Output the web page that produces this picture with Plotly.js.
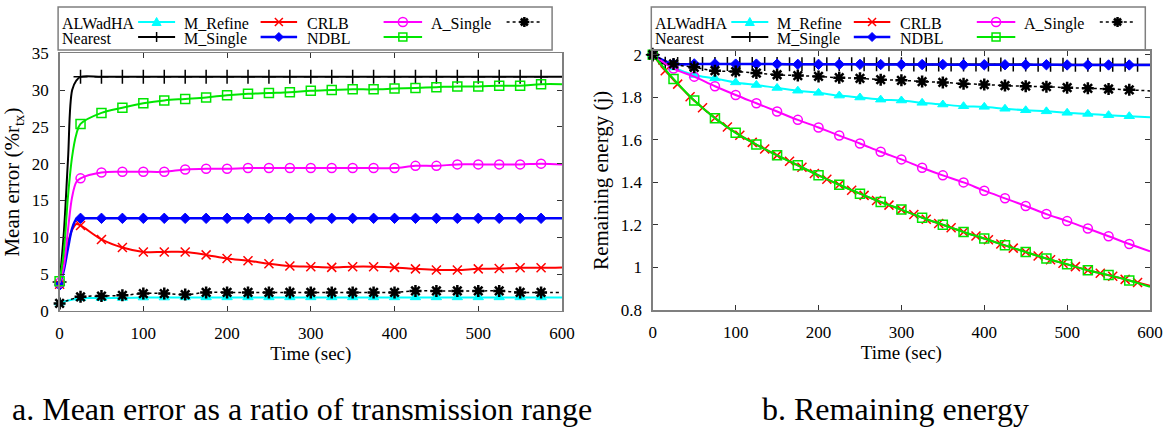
<!DOCTYPE html>
<html><head><meta charset="utf-8">
<script src="https://cdn.plot.ly/plotly-3.0.1.min.js"></script>
<style>html,body{margin:0;padding:0;background:#fff;} #chart{width:1176px;height:428px;}</style>
</head><body><div id="chart"></div>
<script>
// ---------- data: panel a (mean error, % of r_tx) ----------
const timeA = [0,25,50,75,100,125,150,175,200,225,250,275,300,325,350,375,400,425,450,475,500,525,550,575,600];
const timeADense = [0,5,10,15,20,25,50,75,100,125,150,175,200,225,250,275,300,325,350,375,400,425,450,475,500,525,550,575,600];
const errALWadHA = [1.1,1.7,1.72,1.75,1.8,1.8,1.82,1.82,1.82,1.82,1.82,1.82,1.82,1.82,1.82,1.82,1.82,1.82,1.82,1.82,1.82,1.82,1.82,1.82,1.82];
const errASingle = [1.0,1.9,2.0,2.1,2.35,2.35,2.2,2.5,2.5,2.5,2.5,2.5,2.5,2.5,2.5,2.5,2.5,2.7,2.7,2.7,2.7,2.7,2.5,2.5,2.5];
const errNearest = [3.9,10.5,20.5,30.0,31.3,31.8,31.8,31.8,31.8,31.8,31.8,31.8,31.8,31.8,31.8,31.8,31.8,31.8,31.8,31.8,31.8,31.8,31.8,31.8,31.8,31.8,31.8,31.8,31.8];
const errMRefine = [3.6,6.5,9.2,11.0,11.8,11.6,9.7,8.6,8.0,8.0,8.0,7.6,7.1,6.8,6.4,6.1,6.0,5.9,6.0,6.0,5.9,5.7,5.55,5.55,5.7,5.75,5.85,5.85,5.9];
const errMSingle = [3.5,5.5,8.5,11.2,12.45,12.57,12.57,12.57,12.57,12.57,12.57,12.57,12.57,12.57,12.57,12.57,12.57,12.57,12.57,12.57,12.57,12.57,12.57,12.57,12.57,12.57,12.57,12.57,12.57];
const errCRLB = [3.8,6.0,11.0,15.5,17.5,18.0,18.8,18.9,18.9,18.9,19.2,19.3,19.3,19.4,19.4,19.4,19.4,19.4,19.4,19.4,19.4,19.7,19.7,19.9,19.9,19.9,19.9,20.0,19.9];
const errNDBL = [4.0,8.0,15.5,21.0,24.0,25.4,26.9,27.6,28.2,28.6,28.8,29.0,29.3,29.5,29.6,29.7,29.9,30.0,30.1,30.1,30.2,30.3,30.4,30.5,30.5,30.6,30.6,30.8,30.8];

// ---------- data: panel b (remaining energy, j) ----------
const timeB = [0,25,50,75,100,125,150,175,200,225,250,275,300,325,350,375,400,425,450,475,500,525,550,575,600];
const timeB15 = [0,15,30,45,60,75,90,105,120,135,150,165,180,195,210,225,240,255,270,285,300,315,330,345,360,375,390,405,420,435,450,465,480,495,510,525,540,555,570,585,600];
const enALWadHA = [2.0,1.94,1.905,1.889,1.870,1.858,1.844,1.831,1.821,1.808,1.799,1.789,1.785,1.774,1.766,1.758,1.755,1.746,1.739,1.734,1.727,1.722,1.716,1.711,1.706];
const enCRLB = [2.0,1.935,1.897,1.852,1.811,1.772,1.733,1.694,1.658,1.620,1.583,1.544,1.508,1.469,1.433,1.400,1.361,1.325,1.289,1.251,1.218,1.183,1.147,1.110,1.076];
const enASingle = [2.0,1.957,1.941,1.925,1.921,1.914,1.906,1.902,1.898,1.892,1.889,1.883,1.880,1.874,1.870,1.864,1.860,1.855,1.852,1.850,1.845,1.842,1.839,1.835,1.830];
const enMSingle = [2.0,1.957,1.957,1.957,1.956,1.956,1.956,1.955,1.955,1.955,1.955,1.954,1.954,1.954,1.954,1.953,1.953,1.953,1.953,1.953,1.952,1.952,1.952,1.952,1.952];
const enNDBL = [2.0,1.886,1.785,1.702,1.633,1.578,1.527,1.480,1.433,1.389,1.347,1.308,1.272,1.234,1.201,1.167,1.136,1.104,1.073,1.042,1.015,0.987,0.964,0.939,0.909];
const enMRefine = [2.0,1.925,1.862,1.803,1.751,1.703,1.660,1.622,1.588,1.557,1.527,1.499,1.471,1.442,1.415,1.389,1.363,1.339,1.315,1.293,1.272,1.249,1.227,1.207,1.187,1.167,1.148,1.130,1.110,1.091,1.073,1.054,1.036,1.020,1.004,0.987,0.973,0.959,0.944,0.929,0.914];
const enNearest = [2.0,1.958,1.957,1.957,1.957,1.957,1.956,1.956,1.956,1.956,1.956,1.955,1.955,1.955,1.955,1.955,1.955,1.955,1.955,1.955,1.955,1.954,1.954,1.954,1.954,1.954,1.954,1.954,1.954,1.954,1.954,1.953,1.953,1.953,1.953,1.953,1.953,1.953,1.953,1.953,1.953];

// ---------- ticks / text ----------
const xTicks = [0,100,200,300,400,500,600];
const errTicks = [0,5,10,15,20,25,30,35];
const enTicks = [0.8,1,1.2,1.4,1.6,1.8,2];
const enTickText = ['0.8','1','1.2','1.4','1.6','1.8','2'];
const captionA = 'a. Mean error as a ratio of transmission range';
const captionB = 'b. Remaining energy';

// ---------- styles ----------
const SERIF = '"Liberation Serif", "Times New Roman", Times, serif';
const STYLE = {
  'ALWadHA':  {color:'#00ffff', width:2,   dash:'solid', symbol:'triangle-up', size:9,  mlw:1},
  'Nearest':  {color:'#000000', width:2,   dash:'solid', symbol:'cross-thin',  size:10, mlw:1.5},
  'M_Refine': {color:'#ff0000', width:2,   dash:'solid', symbol:'x-thin',      size:9,  mlw:1.5},
  'M_Single': {color:'#0000ff', width:2.5, dash:'solid', symbol:'diamond',     size:8,  mlw:1},
  'CRLB':     {color:'#ff00ff', width:2,   dash:'solid', symbol:'circle-open', size:9,  mlw:1.5},
  'NDBL':     {color:'#00e600', width:2,   dash:'solid', symbol:'square-open', size:9,  mlw:1.5},
  'A_Single': {color:'#000000', width:1.5, dash:'dot',   symbol:'asterisk',    size:10, mlw:2.5}
};

function mk(name, xs, ys, xa, ya, step) {
  const s = STYLE[name];
  return {
    type:'scatter', mode:'lines+markers', name:name, x:xs, y:ys, xaxis:xa, yaxis:ya,
    line:{color:s.color, width:s.width, dash:s.dash, shape:'spline', smoothing:1},
    marker:{symbol:s.symbol, size:s.size, color:s.color,
            opacity: xs.map(t => (t % step === 0 && t < 600) ? 1 : 0),
            line:{color:s.color, width:s.mlw}},
    cliponaxis:false, showlegend:false, hoverinfo:'x+y+name'
  };
}

const traces = [
  mk('ALWadHA', timeA, errALWadHA, 'x', 'y', 25),
  mk('Nearest', timeADense, errNearest, 'x', 'y', 25),
  mk('M_Refine', timeADense, errMRefine, 'x', 'y', 25),
  mk('M_Single', timeADense, errMSingle, 'x', 'y', 25),
  mk('CRLB', timeADense, errCRLB, 'x', 'y', 25),
  mk('NDBL', timeADense, errNDBL, 'x', 'y', 25),
  mk('A_Single', timeA, errASingle, 'x', 'y', 25),
  mk('ALWadHA', timeB, enALWadHA, 'x2', 'y2', 25),
  mk('Nearest', timeB15, enNearest, 'x2', 'y2', 15),
  mk('M_Refine', timeB15, enMRefine, 'x2', 'y2', 15),
  mk('M_Single', timeB, enMSingle, 'x2', 'y2', 25),
  mk('CRLB', timeB, enCRLB, 'x2', 'y2', 25),
  mk('NDBL', timeB, enNDBL, 'x2', 'y2', 25),
  mk('A_Single', timeB, enASingle, 'x2', 'y2', 25)
];

// ---------- geometry (pixels in a 1176x428 page) ----------
const W = 1176, H = 428;
const px = v => v / W, py = v => 1 - v / H;
const PL = [59.6, 652.8]; // plot left edges

const GRAY = '#7f7f7f';
function axisBase() {
  return {showline:true, linecolor:GRAY, linewidth:1.5, mirror:'ticks', ticks:'inside', ticklen:5,
          tickcolor:'#333', tickwidth:1, showgrid:false, zeroline:false,
          tickfont:{family:SERIF, size:17, color:'#000'}, ticklabelstandoff:6, fixedrange:true};
}
const titleFontX = {family:SERIF, size:19, color:'#000'};
const titleFontY = {family:SERIF, size:21, color:'#000'};

const layout = {
  width:W, height:H, margin:{l:0, r:0, t:0, b:0},
  paper_bgcolor:'#fff', plot_bgcolor:'#fff', showlegend:false,
  font:{family:SERIF, color:'#000'},
  xaxis: Object.assign(axisBase(), {domain:[px(59.6), px(562)], range:[0,600], tickvals:xTicks, anchor:'y',
          title:{text:'Time (sec)', font:titleFontX, standoff:2}}),
  yaxis: Object.assign(axisBase(), {domain:[py(310.8), py(53.3)], range:[0,35], tickvals:errTicks, anchor:'x',
          title:{text:'Mean error (%r<sub>tx</sub>)', font:titleFontY, standoff:6}}),
  xaxis2: Object.assign(axisBase(), {domain:[px(652.8), px(1150)], range:[0,600], tickvals:xTicks, anchor:'y2',
          title:{text:'Time (sec)', font:titleFontX, standoff:2}}),
  yaxis2: Object.assign(axisBase(), {domain:[py(310), py(50.5)], range:[0.8,2.02], tickvals:enTicks, ticktext:enTickText, anchor:'x2',
          title:{text:'Remaining energy (j)', font:titleFontY, standoff:6}}),
  shapes: [], annotations: []
};

// ---------- gnuplot-style key (text followed by sample) ----------
const keyRows = [
  ['ALWadHA','M_Refine','CRLB','A_Single'],
  ['Nearest','M_Single','NDBL']
];
const keyTextOff = [0.5, 122.5, 245.5, 369.5];
const keySample = [[78.5,115.5],[201,237.5],[324,362.5],[447,482.5]];
const rowSampleY = [22, 37], rowTextY = [23.5, 39];
const MPATH = {
  'triangle-up':'M-4.5,-3.5L4.5,-3.5L0,4.5Z',
  'cross-thin':'M-5,0L5,0M0,-5L0,5',
  'x-thin':'M-4,-4L4,4M-4,4L4,-4',
  'diamond':'M0,-4.5L4.5,0L0,4.5L-4.5,0Z',
  'asterisk':'M-5,0L5,0M0,-5L0,5M-3.5,-3.5L3.5,3.5M-3.5,3.5L3.5,-3.5'
};
PL.forEach(P => {
  layout.shapes.push({type:'rect', xref:'paper', yref:'paper', x0:px(P-1.5), x1:px(P+492.5), y0:py(50), y1:py(7),
                      line:{color:GRAY, width:1.5}, fillcolor:'rgba(0,0,0,0)', layer:'above'});
  keyRows.forEach((row, r) => row.forEach((name, c) => {
    const s = STYLE[name];
    layout.annotations.push({xref:'paper', yref:'paper', x:px(P+keyTextOff[c]), y:py(rowTextY[r]),
      xanchor:'left', yanchor:'middle', showarrow:false, text:name, font:{family:SERIF, size:16, color:'#000'}});
    const mx = (keySample[c][0] + keySample[c][1]) / 2;
    layout.shapes.push({type:'line', xref:'paper', yref:'paper', x0:px(P+keySample[c][0]), x1:px(P+keySample[c][1]),
      y0:py(rowSampleY[r]), y1:py(rowSampleY[r]), line:{color:s.color, width:s.width, dash:s.dash}});
    const base = {xref:'paper', yref:'paper', xsizemode:'pixel', ysizemode:'pixel', xanchor:px(P+mx), yanchor:py(rowSampleY[r])};
    if (s.symbol === 'circle-open') {
      layout.shapes.push(Object.assign({type:'circle', x0:-4.5, x1:4.5, y0:-4.5, y1:4.5, line:{color:s.color, width:1.5}, fillcolor:'rgba(0,0,0,0)'}, base));
    } else if (s.symbol === 'square-open') {
      layout.shapes.push(Object.assign({type:'rect', x0:-4, x1:4, y0:-4, y1:4, line:{color:s.color, width:1.5}, fillcolor:'rgba(0,0,0,0)'}, base));
    } else {
      const filled = (s.symbol === 'triangle-up' || s.symbol === 'diamond');
      layout.shapes.push(Object.assign({type:'path', path:MPATH[s.symbol], line:{color:s.color, width:s.mlw},
        fillcolor: filled ? s.color : 'rgba(0,0,0,0)'}, base));
    }
  }));
});

// ---------- captions ----------
layout.annotations.push({xref:'paper', yref:'paper', x:px(10), y:py(409), xanchor:'left', yanchor:'middle', showarrow:false,
  text:captionA, font:{family:SERIF, size:32, color:'#000'}});
layout.annotations.push({xref:'paper', yref:'paper', x:px(760), y:py(409), xanchor:'left', yanchor:'middle', showarrow:false,
  text:captionB, font:{family:SERIF, size:32, color:'#000'}});

Plotly.newPlot('chart', traces, layout, {displayModeBar:false, staticPlot:true});
</script></body></html>
